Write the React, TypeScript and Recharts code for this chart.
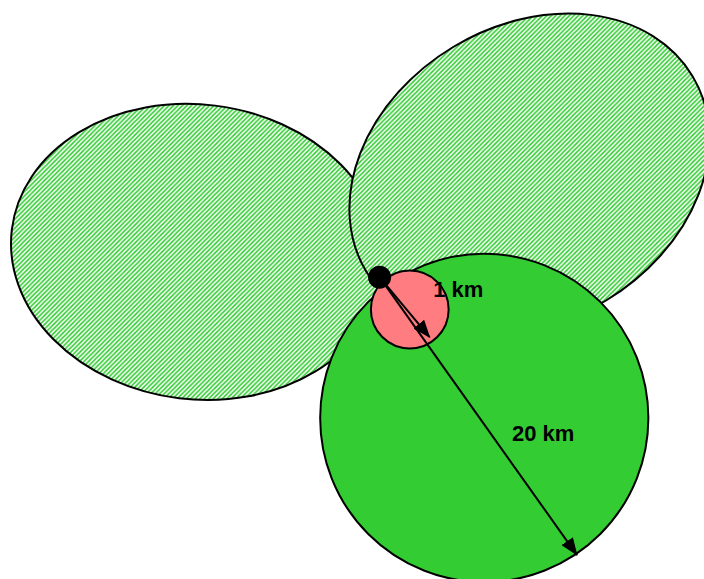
import { ScatterChart, Scatter, XAxis, YAxis } from 'recharts'

// map frame in km, origin bottom-left, y pointing north
const VIEW_W_KM = 42.9
const VIEW_H_KM = 35.3

// hatched lobes (ellipses), tilt in degrees counter-clockwise
const lobeNames = ['west lobe', 'northeast lobe']
const lobeX = [12.01, 32.26]
const lobeY = [19.94, 24.7]
const lobeMajor = [11.37, 11.59]
const lobeMinor = [8.98, 9.02]
const lobeTilt = [-7, 31]

// solid zones
const zoneNames = ['20 km zone', '1 km zone']
const zoneX = [29.51, 24.97]
const zoneY = [9.82, 16.43]
const zoneRadius = [10, 2.37]

// source point
const siteX = [23.13]
const siteY = [18.4]

// radius arrows, from the source point
const arrowEndX = [26.18, 35.16]
const arrowEndY = [14.74, 1.46]

const labelText = ['1 km', '20 km']
const labelX = [26.4, 31.2]
const labelY = [17.18, 8.43]

const W = 704
const H = 579
const PX = W / VIEW_W_KM

const lobes = lobeNames.map((name, i) => ({
  name, x: lobeX[i], y: lobeY[i], rx: lobeMajor[i], ry: lobeMinor[i], tilt: lobeTilt[i],
}))
const zones = zoneNames.map((name, i) => ({ name, x: zoneX[i], y: zoneY[i], r: zoneRadius[i] }))
const site = siteX.map((x, i) => ({ x, y: siteY[i] }))
const arrows = arrowEndX.map((ex, i) => [
  { x: siteX[0], y: siteY[0] },
  { x: ex, y: arrowEndY[i] },
])
const labels = labelText.map((text, i) => ({ text, x: labelX[i], y: labelY[i] }))

const zoneFill: Record<string, string> = {
  '20 km zone': '#33CC33',
  '1 km zone': '#FF7C80',
}

// rotated ellipse as an arc path so the hatch keeps its screen orientation
const LobeShape = (p: any) => {
  const rx = p.payload.rx * PX
  const ry = p.payload.ry * PX
  const deg = -p.payload.tilt
  const a = (deg * Math.PI) / 180
  const x1 = p.cx + rx * Math.cos(a)
  const y1 = p.cy + rx * Math.sin(a)
  const x2 = p.cx - rx * Math.cos(a)
  const y2 = p.cy - rx * Math.sin(a)
  const d = `M${x1},${y1} A${rx},${ry} ${deg} 1 0 ${x2},${y2} A${rx},${ry} ${deg} 1 0 ${x1},${y1} Z`
  return <path d={d} fill="url(#hatch)" stroke="#000" strokeWidth={2} />
}

const ZoneShape = (p: any) => (
  <circle
    cx={p.cx}
    cy={p.cy}
    r={p.payload.r * PX}
    fill={zoneFill[p.payload.name]}
    stroke="#000"
    strokeWidth={2}
  />
)

const SiteShape = (p: any) => <circle cx={p.cx} cy={p.cy} r={11.5} fill="#000" />

const LabelShape = (p: any) => (
  <text
    x={p.cx}
    y={p.cy}
    fontFamily="'Liberation Sans', Arial, sans-serif"
    fontWeight="bold"
    fontSize={22}
    fill="#000"
  >
    {p.payload.text}
  </text>
)

const NoDot = () => <g />

const ArrowLine = (lp: any) => {
  const pts = lp.points || []
  if (pts.length < 2) return <g />
  return (
    <path
      d={`M${pts[0].x},${pts[0].y} L${pts[1].x},${pts[1].y}`}
      fill="none"
      stroke="#000"
      strokeWidth={2}
      markerEnd="url(#arrowHead)"
    />
  )
}

export default function App() {
  return (
    <div style={{ position: 'absolute', left: 0, top: 0, background: '#fff' }}>
      <ScatterChart width={W} height={H} margin={{ top: 0, right: 0, bottom: 0, left: 0 }}>
        <defs>
          <pattern id="hatch" patternUnits="userSpaceOnUse" width="4.5" height="4.5">
            <rect width="4.5" height="4.5" fill="#fff" />
            <path
              d="M-1,1 l2,-2 M0,4.5 l4.5,-4.5 M3.5,5.5 l2,-2"
              stroke="#33CC33"
              strokeWidth={1.6}
            />
          </pattern>
          <marker
            id="arrowHead"
            markerUnits="userSpaceOnUse"
            markerWidth="18"
            markerHeight="14"
            refX="17"
            refY="7"
            orient="auto"
          >
            <path d="M0,0 L18,7 L0,14 z" fill="#000" />
          </marker>
        </defs>
        <XAxis type="number" dataKey="x" domain={[0, VIEW_W_KM]} hide allowDataOverflow />
        <YAxis type="number" dataKey="y" domain={[0, VIEW_H_KM]} hide allowDataOverflow />
        <Scatter data={lobes} shape={LobeShape} isAnimationActive={false} />
        <Scatter data={zones} shape={ZoneShape} isAnimationActive={false} />
        {arrows.map((seg, i) => (
          <Scatter
            key={i}
            data={seg}
            line={ArrowLine}
            shape={NoDot}
            isAnimationActive={false}
          />
        ))}
        <Scatter data={site} shape={SiteShape} isAnimationActive={false} />
        <Scatter data={labels} shape={LabelShape} isAnimationActive={false} />
      </ScatterChart>
    </div>
  )
}
